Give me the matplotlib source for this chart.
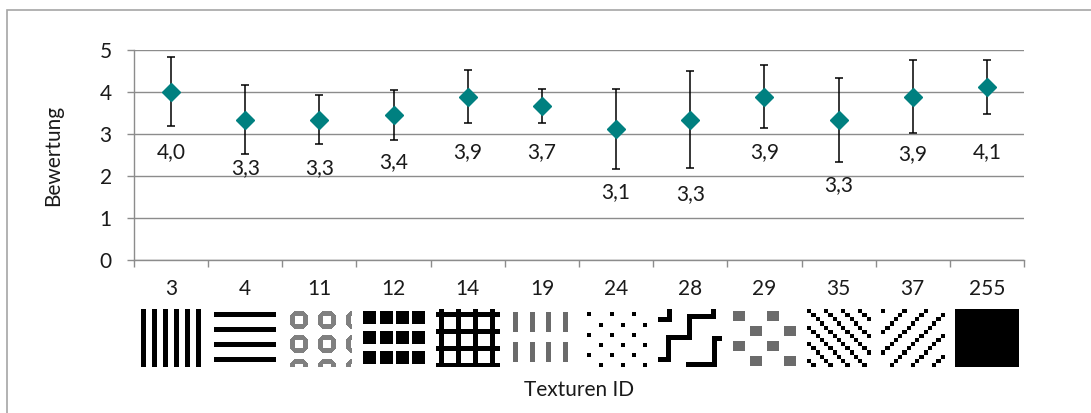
import numpy as np
import matplotlib
matplotlib.use("Agg")
import matplotlib.pyplot as plt
from matplotlib.patches import Rectangle

# ==========================================
# Dados
# ==========================================
texture_ids = ['3', '4', '11', '12', '14', '19', '24', '28', '29', '35', '37', '255']
means = [4.00, 3.33, 3.33, 3.44, 3.88, 3.66, 3.10, 3.33, 3.88, 3.33, 3.88, 4.11]
errors = [0.81, 0.82, 0.58, 0.59, 0.63, 0.40, 0.95, 1.15, 0.76, 1.00, 0.87, 0.64]
value_labels = ['4,0', '3,3', '3,3', '3,4', '3,9', '3,7', '3,1', '3,3', '3,9', '3,3', '3,9', '4,1']
# posicao vertical (em unidades de Bewertung) dos rotulos de valor
label_y = [2.58, 2.20, 2.20, 2.35, 2.58, 2.58, 1.64, 1.58, 2.58, 1.80, 2.54, 2.58]
y_ticks = [0, 1, 2, 3, 4, 5]

plt.rcParams['font.family'] = ['Lato', 'DejaVu Sans']
FS = 15
GRID_C = '#8c8c8c'
TEAL = '#008080'
GREY = 0.42
TXT = '#1a1a1a'


# ==========================================
# Texturas (pequenas matrizes de pixels, 0 = preto, 1 = branco)
# ==========================================
def blank(h=58, w=64):
    return np.ones((h, w))


def tex_3():
    a = blank()
    for k in range(6):
        a[:, 2 + 11 * k:7 + 11 * k] = 0
    return a


def tex_4():
    a = blank()
    for k in range(4):
        a[3 + 15 * k:8 + 15 * k, 1:63] = 0
    return a


def tex_11():
    a = blank()
    yy, xx = np.mgrid[0:20, 0:20]
    dx, dy = np.abs(xx - 9.5), np.abs(yy - 9.5)
    ring = (dx + dy <= 13) & (np.maximum(dx, dy) <= 9) & ~((dx < 4.5) & (dy < 4.5))
    for r0 in (1, 25, 49):
        for c0 in (1, 29, 57):
            h = min(20, 58 - r0)
            w = min(20, 64 - c0)
            sub = a[r0:r0 + h, c0:c0 + w]
            sub[ring[:h, :w]] = 0.5
    return a


def tex_12():
    a = blank()
    for j in range(3):
        for k in range(4):
            c = int(round(1 + 16.5 * k))
            a[2 + 20 * j:15 + 20 * j, c:c + 13] = 0
    return a


def tex_14():
    a = blank()
    for k in range(4):
        a[:, 3 + 17 * k:8 + 17 * k] = 0
        a[3 + 17 * k:8 + 17 * k, :] = 0
    return a


def tex_19():
    a = blank()
    for c in (3, 20, 36, 53):
        a[3:23, c:c + 5] = GREY
        a[33:53, c:c + 5] = GREY
    return a


def tex_24():
    a = blank()
    for j, r in enumerate((3, 14, 24, 34, 44, 54)):
        cols = (3, 26, 48) if j % 2 == 0 else (15, 37, 59)
        for c in cols:
            a[r:r + 4, c:c + 4] = 0
    return a


def tex_28():
    a = blank()
    paths = [
        [(1, 10), (11, 10), (11, 0)],
        [(1, 50), (10, 50), (10, 28), (31, 28), (31, 7), (55, 7), (55, 0)],
        [(30, 55), (56, 55), (56, 29), (64, 29)],
    ]
    for pts in paths:
        for (x0, y0), (x1, y1) in zip(pts[:-1], pts[1:]):
            xa, xb = sorted((x0, x1))
            ya, yb = sorted((y0, y1))
            a[max(ya - 2, 0):yb + 3, max(xa - 2, 0):xb + 3] = 0
    return a


def tex_29():
    a = blank()
    for j, r in enumerate((2, 17, 32, 47)):
        cols = (0, 34) if j % 2 == 0 else (17, 51)
        for c in cols:
            a[r:r + 10, c:c + 12] = GREY
    return a


def tex_35():
    yy, xx = np.mgrid[0:14, 0:15]
    return np.where((xx - yy) % 4 == 0, 0.0, 1.0)


def tex_37():
    yy, xx = np.mgrid[0:14, 0:15]
    return np.where((xx + yy) % 5 == 0, 0.0, 1.0)


def tex_255():
    return np.zeros((58, 64))


textures = [tex_3(), tex_4(), tex_11(), tex_12(), tex_14(), tex_19(),
            tex_24(), tex_28(), tex_29(), tex_35(), tex_37(), tex_255()]

# ==========================================
# Figura
# ==========================================
W, H = 1091, 414
fig = plt.figure(figsize=(W / 100, H / 100), dpi=100)

# moldura do grafico (estilo Excel)
fig.add_artist(Rectangle((7 / W, -0.1), 1.2, 1 - 11 / H + 0.1, transform=fig.transFigure,
                         fill=False, ec='#a6a6a6', lw=1.2))

ax = fig.add_axes([134 / W, 1 - 260.5 / H, 890 / W, 210 / H])
x = np.arange(len(texture_ids))

ax.errorbar(x, means, yerr=errors, fmt='none', ecolor='black', elinewidth=1.1,
            capsize=2.6, capthick=1.1, zorder=3)
ax.plot(x, means, 'D', color=TEAL, markersize=9, zorder=4)
for xi, lab, ly in zip(x, value_labels, label_y):
    ax.text(xi, ly, lab, ha='center', va='center', fontsize=FS, color=TXT)

ax.set_xlim(-0.5, len(texture_ids) - 0.5)
ax.set_ylim(0, 5)
ax.set_yticks(y_ticks)
ax.set_yticklabels([str(v) for v in y_ticks])
ax.set_xticks(x)
ax.set_xticklabels(texture_ids)
ax.set_xticks(np.arange(-0.5, len(texture_ids)), minor=True)
ax.tick_params(axis='x', which='major', length=0, pad=13, labelsize=FS, colors=TXT)
ax.tick_params(axis='x', which='minor', length=5, color=GRID_C, width=1)
ax.tick_params(axis='y', length=5, color=GRID_C, width=1, pad=11, labelsize=FS,
               labelcolor=TXT)
ax.grid(axis='y', color=GRID_C, lw=1, zorder=0)
for s in ('top', 'right'):
    ax.spines[s].set_visible(False)
for s in ('left', 'bottom'):
    ax.spines[s].set_color(GRID_C)
    ax.spines[s].set_linewidth(1)

fig.text(53 / W, 1 - 155 / H, 'Bewertung', rotation=90, ha='center', va='center',
         fontsize=FS, color=TXT)
fig.text(579 / W, 1 - 390 / H, 'Texturen ID', ha='center', va='center',
         fontsize=FS, color=TXT)

# --- Linha de texturas abaixo do eixo ---
tax = fig.add_axes([134 / W, 1 - 368 / H, 890 / W, 58 / H])
tax.set_xlim(-0.5, len(texture_ids) - 0.5)
tax.set_ylim(0, 1)
tax.axis('off')
for xi, img in zip(x, textures):
    tax.imshow(img, cmap='gray', vmin=0, vmax=1, interpolation='nearest',
               extent=[xi - 0.43, xi + 0.43, 0, 1], aspect='auto')

fig.savefig('out.png', dpi=100)
